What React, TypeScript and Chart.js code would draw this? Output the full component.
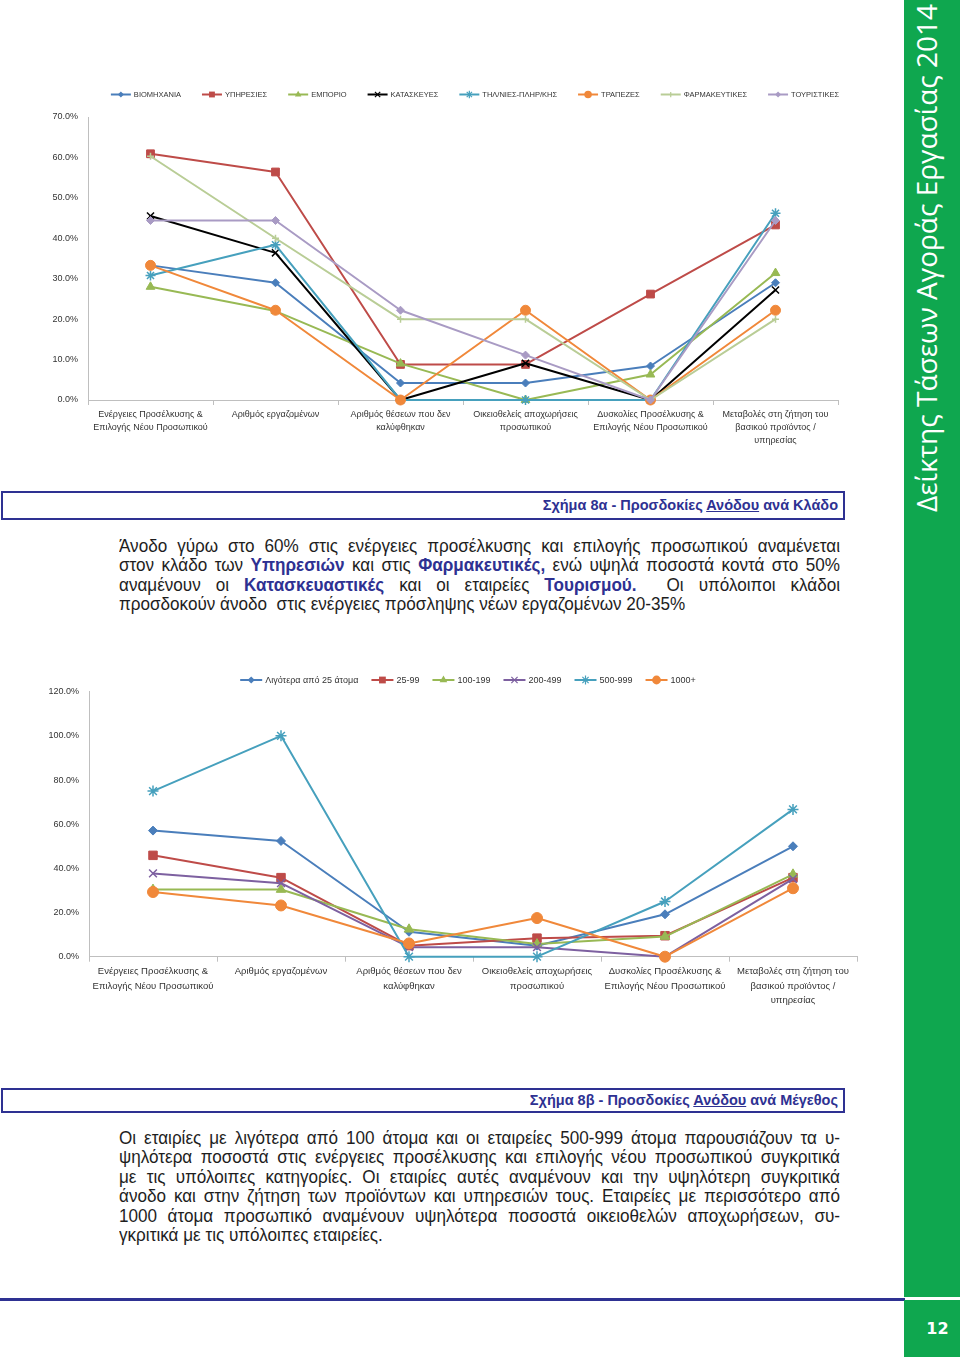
import React, { useEffect, useRef } from 'react';
import { Chart, registerables } from 'chart.js';

Chart.register(...registerables);

// ---------- shared categories ----------
const categories: string[][] = [
  ['Ενέργειες Προσέλκυσης &', 'Επιλογής Νέου Προσωπικού'],
  ['Αριθμός εργαζομένων'],
  ['Αριθμός θέσεων που δεν', 'καλύφθηκαν'],
  ['Οικειοθελείς αποχωρήσεις', 'προσωπικού'],
  ['Δυσκολίες Προσέλκυσης &', 'Επιλογής Νέου Προσωπικού'],
  ['Μεταβολές στη ζήτηση του', 'βασικού προϊόντος /', 'υπηρεσίας'],
];

// ---------- chart 8a: by sector (values in %) ----------
const sectorNames = ['ΒΙΟΜΗΧΑΝΙΑ', 'ΥΠΗΡΕΣΙΕΣ', 'ΕΜΠΟΡΙΟ', 'ΚΑΤΑΣΚΕΥΕΣ', 'ΤΗΛ/ΝΙΕΣ-ΠΛΗΡ/ΚΗΣ', 'ΤΡΑΠΕΖΕΣ', 'ΦΑΡΜΑΚΕΥΤΙΚΕΣ', 'ΤΟΥΡΙΣΤΙΚΕΣ'];
const industry = [33.3, 29.0, 4.2, 4.2, 8.4, 29.0];
const services = [60.9, 56.4, 8.8, 8.8, 26.2, 43.3];
const commerce = [28.0, 22.0, 9.0, 0, 6.3, 31.4];
const construction = [45.5, 36.4, 0, 9.1, 0, 27.2];
const telecom = [30.8, 38.4, 0, 0, 0, 46.2];
const banks = [33.3, 22.2, 0, 22.2, 0, 22.2];
const pharma = [60.3, 40.0, 20.0, 20.0, 0, 20.0];
const tourism = [44.4, 44.4, 22.2, 11.1, 0, 44.4];
const sectorValues = [industry, services, commerce, construction, telecom, banks, pharma, tourism];
const sectorColors = ['#4A7EBB', '#BE4B48', '#98B954', '#000000', '#46A0BD', '#F0883A', '#B9CD96', '#A99BC4'];
const sectorMarkers = ['rectRot', 'rect', 'triangle', 'crossRot', 'star', 'circle', 'cross', 'rectRot'];
const sectorRadius = [4, 5.5, 5, 5, 5, 5, 3.5, 4];
const sectorYMax = 70;
const sectorYStep = 10;

// ---------- chart 8b: by size (values in %) ----------
const sizeNames = ['Λιγότερα από 25 άτομα', '25-99', '100-199', '200-499', '500-999', '1000+'];
const lt25 = [57.1, 52.4, 11.3, 5.0, 19.2, 50.0];
const s25to99 = [45.9, 35.8, 5.0, 8.4, 9.5, 35.8];
const s100to199 = [30.4, 30.4, 12.4, 5.7, 9.1, 37.3];
const s200to499 = [37.7, 33.3, 4.3, 4.3, 0, 35.2];
const s500to999 = [75.0, 100.0, 0, 0, 25.0, 66.7];
const s1000plus = [29.3, 23.2, 6.0, 17.5, 0, 31.0];
const sizeValues = [lt25, s25to99, s100to199, s200to499, s500to999, s1000plus];
const sizeColors = ['#4A7EBB', '#BE4B48', '#98B954', '#7D60A0', '#46A0BD', '#F0883A'];
const sizeMarkers = ['rectRot', 'rect', 'triangle', 'crossRot', 'star', 'circle'];
const sizeRadius = [4.5, 6, 5.5, 5.5, 5.5, 5.5];
const sizeYMax = 120;
const sizeYStep = 20;

const SANS = '"Liberation Sans", Arial, sans-serif';
const NARROW = '"Liberation Sans Narrow", "Liberation Sans", Arial, sans-serif';
const NAVY = '#2E3192';
const GREEN = '#0FA74F';
const AXIS = '#BFBFBF';
const TICK = '#333333';

function drawMarker(ctx: CanvasRenderingContext2D, style: string, x: number, y: number, r: number, color: string) {
  ctx.save();
  ctx.fillStyle = color;
  ctx.strokeStyle = color;
  ctx.lineWidth = 1.2;
  ctx.beginPath();
  const s = r * Math.SQRT1_2;
  switch (style) {
    case 'rectRot':
      ctx.moveTo(x - r, y); ctx.lineTo(x, y - r); ctx.lineTo(x + r, y); ctx.lineTo(x, y + r); ctx.closePath(); ctx.fill();
      break;
    case 'rect':
      ctx.rect(x - s, y - s, 2 * s, 2 * s); ctx.fill();
      break;
    case 'triangle':
      ctx.moveTo(x, y - r); ctx.lineTo(x + r * 0.866, y + r * 0.5); ctx.lineTo(x - r * 0.866, y + r * 0.5); ctx.closePath(); ctx.fill();
      break;
    case 'circle':
      ctx.arc(x, y, r, 0, Math.PI * 2); ctx.fill();
      break;
    case 'crossRot':
      ctx.moveTo(x - s, y - s); ctx.lineTo(x + s, y + s); ctx.moveTo(x + s, y - s); ctx.lineTo(x - s, y + s); ctx.stroke();
      break;
    case 'cross':
      ctx.moveTo(x - r, y); ctx.lineTo(x + r, y); ctx.moveTo(x, y - r); ctx.lineTo(x, y + r); ctx.stroke();
      break;
    case 'star':
      ctx.moveTo(x - s, y - s); ctx.lineTo(x + s, y + s); ctx.moveTo(x + s, y - s); ctx.lineTo(x - s, y + s);
      ctx.moveTo(x, y - r); ctx.lineTo(x, y + r); ctx.stroke();
      break;
  }
  ctx.restore();
}

const excelLegend = {
  id: 'excelLegend',
  afterDraw(chart: any, _args: any, opts: any) {
    const ctx: CanvasRenderingContext2D = chart.ctx;
    const ds = chart.data.datasets;
    ctx.save();
    ctx.font = opts.font;
    const widths = ds.map((d: any) => ctx.measureText(d.label).width);
    let total = 0;
    widths.forEach((w: number, i: number) => {
      total += opts.lineLen + opts.textGap + w + (i > 0 ? opts.gap : 0);
    });
    let x = opts.centerX - total / 2;
    const y = opts.y;
    ds.forEach((d: any, i: number) => {
      ctx.strokeStyle = d.borderColor;
      ctx.lineWidth = 2;
      ctx.beginPath();
      ctx.moveTo(x, y);
      ctx.lineTo(x + opts.lineLen, y);
      ctx.stroke();
      if (d.pointRadius > 0) {
        drawMarker(ctx, d.pointStyle, x + opts.lineLen / 2, y, d.pointRadius * opts.markerScale, d.borderColor);
      }
      ctx.fillStyle = opts.color;
      ctx.textBaseline = 'middle';
      ctx.textAlign = 'left';
      ctx.fillText(d.label, x + opts.lineLen + opts.textGap, y + 0.5);
      x += opts.lineLen + opts.textGap + widths[i] + opts.gap;
    });
    ctx.restore();
  },
};

type ChartProps = {
  left: number; top: number; width: number; height: number;
  names: string[]; values: number[][]; colors: string[]; markers: string[]; radii: number[];
  yMax: number; yStep: number;
  padTop: number; padRight: number; yWidth: number; xHeight: number;
  tickSize: number; tickLineHeight: number;
  legend: any;
};

function LineChart(p: ChartProps) {
  const ref = useRef<HTMLCanvasElement>(null);
  useEffect(() => {
    const n = p.names.length;
    const datasets = p.names.map((name, i) => ({
      label: name,
      data: p.values[i],
      borderColor: p.colors[i],
      backgroundColor: p.colors[i],
      borderWidth: 2,
      pointStyle: p.markers[i],
      pointRadius: p.radii[i],
      pointHoverRadius: p.radii[i],
      pointBackgroundColor: p.colors[i],
      pointBorderColor: p.colors[i],
      pointBorderWidth: p.markers[i] === 'crossRot' || p.markers[i] === 'star' || p.markers[i] === 'cross' ? 1.5 : 1,
      tension: 0,
      fill: false,
      clip: false,
      order: n - i,
    }));
    const chart = new Chart(ref.current as HTMLCanvasElement, {
      type: 'line',
      data: { labels: categories as any, datasets: datasets as any },
      plugins: [excelLegend as any],
      options: {
        animation: false,
        responsive: true,
        maintainAspectRatio: false,
        events: [],
        layout: { padding: { top: p.padTop, right: p.padRight, left: 0, bottom: 0 } },
        elements: { line: { borderJoinStyle: 'round', borderCapStyle: 'round' } },
        plugins: {
          legend: { display: false },
          tooltip: { enabled: false },
          excelLegend: p.legend,
        } as any,
        scales: {
          x: {
            type: 'category',
            offset: true,
            grid: { display: true, offset: true, drawOnChartArea: false, drawTicks: true, tickLength: 5, color: AXIS },
            border: { display: true, color: AXIS, width: 1 },
            ticks: {
              autoSkip: false, maxRotation: 0, minRotation: 0, padding: 3, color: TICK,
              font: { family: SANS, size: p.tickSize, lineHeight: p.tickLineHeight },
            },
            afterFit: (scale: any) => { scale.height = p.xHeight; },
          },
          y: {
            min: 0,
            max: p.yMax,
            grid: { display: false, drawTicks: false },
            border: { display: true, color: AXIS, width: 1 },
            ticks: {
              stepSize: p.yStep, padding: 10, color: TICK,
              font: { family: SANS, size: 9 },
              callback: (v: any) => Number(v).toFixed(1) + '%',
            },
            afterFit: (scale: any) => { scale.width = p.yWidth; },
          },
        },
      } as any,
    });
    return () => chart.destroy();
  }, []);
  return (
    <div style={{ position: 'absolute', left: p.left, top: p.top, width: p.width, height: p.height }}>
      <canvas ref={ref} />
    </div>
  );
}

type Seg = string | { b: string };

const SCALE_X = 0.9;

function Paragraph({ top, lines }: { top: number; lines: Seg[][] }) {
  return (
    <div style={{
      position: 'absolute', left: 119, top, width: 721 / SCALE_X, transform: `scaleX(${SCALE_X})`, transformOrigin: '0 0',
      fontFamily: NARROW, fontSize: 19, lineHeight: '19.4px', color: '#1E1E1E',
    }}>
      {lines.map((line, i) => (
        <div key={i} style={{ textAlign: 'justify', textAlignLast: i < lines.length - 1 ? 'justify' : 'left', height: 19.4, whiteSpace: 'pre' } as any}>
          {line.map((s, j) => typeof s === 'string'
            ? <span key={j}>{s}</span>
            : <span key={j} style={{ color: NAVY, fontWeight: 'bold' }}>{s.b}</span>)}
        </div>
      ))}
    </div>
  );
}

function Caption({ top, height, children }: { top: number; height: number; children: any }) {
  return (
    <div style={{
      position: 'absolute', left: 1, top, width: 844, height, boxSizing: 'border-box',
      border: `2px solid ${NAVY}`, textAlign: 'right', paddingRight: 5,
      fontFamily: SANS, fontWeight: 'bold', fontSize: 14.5, color: NAVY, lineHeight: `${height - 4}px`,
    }}>{children}</div>
  );
}

const p1: Seg[][] = [
  ['Άνοδο γύρω στο 60% στις ενέργειες προσέλκυσης και επιλογής προσωπικού αναμένεται'],
  ['στον κλάδο των ', { b: 'Υπηρεσιών' }, ' και στις ', { b: 'Φαρμακευτικές,' }, ' ενώ υψηλά ποσοστά κοντά στο 50%'],
  ['αναμένουν οι ', { b: 'Κατασκευαστικές' }, ' και οι εταιρείες ', { b: 'Τουρισμού.' }, '  Οι υπόλοιποι κλάδοι'],
  ['προσδοκούν άνοδο  στις ενέργειες πρόσληψης νέων εργαζομένων 20-35%'],
];

const p2: Seg[][] = [
  ['Οι εταιρίες με λιγότερα από 100 άτομα και οι εταιρείες 500-999 άτομα παρουσιάζουν τα υ-'],
  ['ψηλότερα ποσοστά στις ενέργειες προσέλκυσης και επιλογής νέου προσωπικού συγκριτικά'],
  ['με τις υπόλοιπες κατηγορίες. Οι εταιρίες αυτές αναμένουν και την υψηλότερη συγκριτικά'],
  ['άνοδο και στην ζήτηση των προϊόντων και υπηρεσιών τους. Εταιρείες με περισσότερο από'],
  ['1000 άτομα προσωπικό αναμένουν υψηλότερα ποσοστά οικειοθελών αποχωρήσεων, συ-'],
  ['γκριτικά με τις υπόλοιπες εταιρείες.'],
];

export default function App() {
  return (
    <div style={{ position: 'absolute', left: 0, top: 0, width: 960, height: 1357, background: '#fff', overflow: 'hidden' }}>
      <LineChart
        left={40} top={80} width={810} height={370}
        names={sectorNames} values={sectorValues} colors={sectorColors} markers={sectorMarkers} radii={sectorRadius}
        yMax={sectorYMax} yStep={sectorYStep}
        padTop={37} padRight={12} yWidth={48} xHeight={50}
        tickSize={9} tickLineHeight={1.45}
        legend={{ y: 14.5, centerX: 435, font: `7.5px ${NARROW}`, lineLen: 20, textGap: 3, gap: 21, markerScale: 0.75, color: TICK }}
      />
      <Caption top={491} height={29}>
        Σχήμα 8α - Προσδοκίες <span style={{ textDecoration: 'underline' }}>Ανόδου</span> ανά Κλάδο
      </Caption>
      <Paragraph top={536} lines={p1} />

      <LineChart
        left={40} top={665} width={825} height={350}
        names={sizeNames} values={sizeValues} colors={sizeColors} markers={sizeMarkers} radii={sizeRadius}
        yMax={sizeYMax} yStep={sizeYStep}
        padTop={26.7} padRight={8} yWidth={49} xHeight={58.3}
        tickSize={9.5} tickLineHeight={1.5}
        legend={{ y: 15, centerX: 428, font: `9px ${SANS}`, lineLen: 22, textGap: 3, gap: 13, markerScale: 0.8, color: TICK }}
      />
      <Caption top={1088} height={25}>
        Σχήμα 8β - Προσδοκίες <span style={{ textDecoration: 'underline' }}>Ανόδου</span> ανά Μέγεθος
      </Caption>
      <Paragraph top={1128} lines={p2} />

      <div style={{ position: 'absolute', left: 904, top: 0, width: 56, height: 1297, background: GREEN }}>
        <div style={{
          position: 'absolute', left: 0, top: 512, width: 505, height: 44,
          transform: 'rotate(-90deg)', transformOrigin: '0 0', color: '#fff',
          fontFamily: '"Open Sans", sans-serif', fontSize: 28, lineHeight: '44px', textAlign: 'right', whiteSpace: 'nowrap',
        }}>Δείκτης Τάσεων Αγοράς Εργασίας 2014</div>
      </div>
      <div style={{ position: 'absolute', left: 0, top: 1298, width: 905, height: 3, background: NAVY }} />
      <div style={{
        position: 'absolute', left: 904, top: 1300, width: 56, height: 57, background: GREEN,
        color: '#fff', fontFamily: '"DejaVu Sans", sans-serif', fontWeight: 'bold', fontSize: 16,
        textAlign: 'center', lineHeight: '57px', paddingLeft: 11, boxSizing: 'border-box',
      }}>12</div>
    </div>
  );
}
